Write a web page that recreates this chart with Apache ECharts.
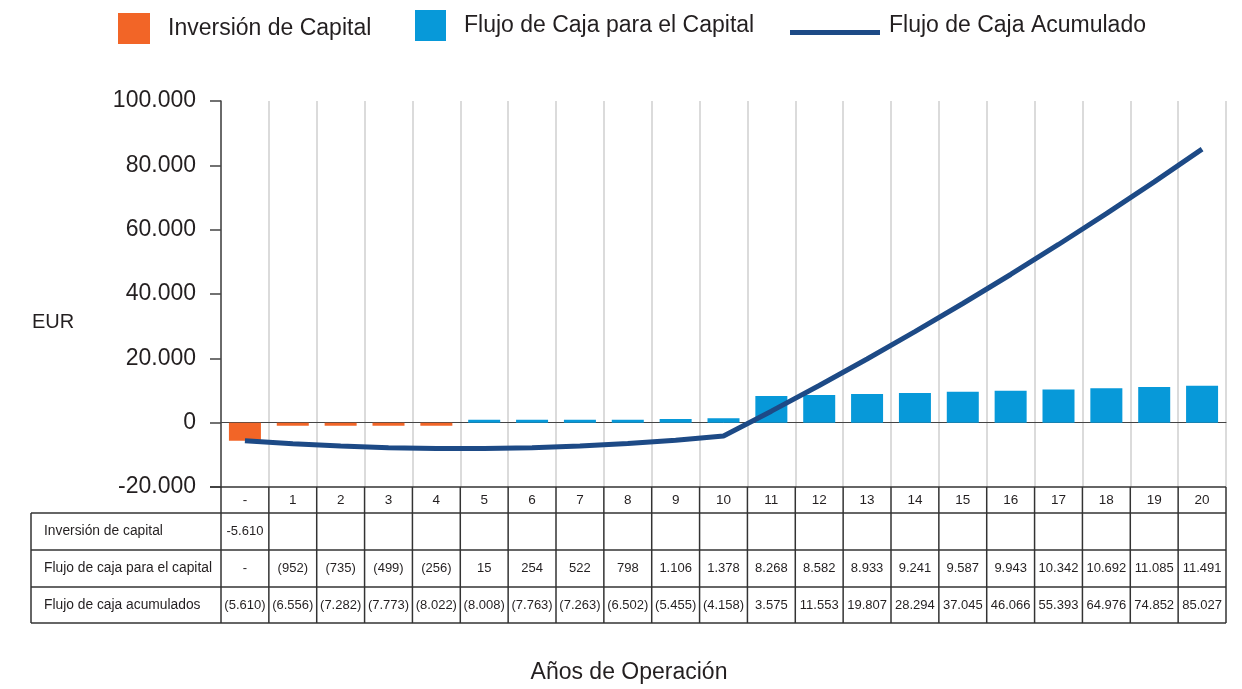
<!DOCTYPE html>
<html>
<head>
<meta charset="utf-8">
<script src="https://cdn.jsdelivr.net/npm/echarts@6/dist/echarts.min.js"></script>
<style>
  html, body { margin: 0; padding: 0; background: #fff; }
  #main { width: 1242px; height: 689px; }
</style>
</head>
<body>
<div id="main"></div>
<script>
// categorias (años) y series
const categories = ['-', '1', '2', '3', '4', '5', '6', '7', '8', '9', '10',
  '11', '12', '13', '14', '15', '16', '17', '18', '19', '20'];
const inversion = [-5610, null, null, null, null, null, null, null, null, null, null,
  null, null, null, null, null, null, null, null, null, null];
const flujo = [null, -952, -735, -499, -256, 15, 254, 522, 798, 1106, 1378,
  8268, 8582, 8933, 9241, 9587, 9943, 10342, 10692, 11085, 11491];
const acumulado = [-5610, -6556, -7282, -7773, -8022, -8008, -7763, -7263, -6502, -5455, -4158,
  3575, 11553, 19807, 28294, 37045, 46066, 55393, 64976, 74852, 85027];
const rowLabels = ['Inversión de capital', 'Flujo de caja para el capital', 'Flujo de caja acumulados'];

const ORANGE = '#f26527';
const BLUE = '#0799d9';
const NAVY = '#1d4a86';
const TXT = '#231f20';
const FONT = '"Liberation Sans", Arial, sans-serif';

function miles(v) {
  return Math.abs(v).toString().replace(/\B(?=(\d{3})+(?!\d))/g, '.');
}
function paren(v) {
  if (v == null) return '-';
  return v < 0 ? '(' + miles(v) + ')' : miles(v);
}
function signed(v) {
  if (v == null) return '';
  return (v < 0 ? '-' : '') + miles(v);
}

const chart = echarts.init(document.getElementById('main'));

const legendText = { fontSize: 23, color: TXT, fontFamily: FONT, padding: [0, 0, 0, 13] };
// línea de la leyenda algo por debajo del centro del texto
const lineIcon = 'path://M0 0H0.1V0.1H0Z M0 20H90V25H0Z M0 30.9H0.1V31H0Z';

chart.setOption({
  animation: false,
  textStyle: { fontFamily: FONT },
  legend: [
    { data: ['Inversión de Capital'], left: 118, top: 13, padding: 0, itemWidth: 32, itemHeight: 31,
      icon: 'rect', textStyle: legendText },
    { data: [{ name: 'Flujo de Caja para el Capital', itemStyle: { color: BLUE } }],
      left: 415, top: 10, padding: 0, itemWidth: 31, itemHeight: 31,
      icon: 'rect', textStyle: legendText },
    { data: ['Flujo de Caja Acumulado'], left: 790, top: 10, padding: 0, itemWidth: 90, itemHeight: 31,
      icon: lineIcon, textStyle: { fontSize: 23, color: TXT, fontFamily: FONT, padding: [0, 0, 0, 4] } }
  ],
  grid: { left: 221, right: 16, top: 101, bottom: 202 },
  xAxis: {
    type: 'category',
    data: categories,
    axisLine: { onZero: true, lineStyle: { color: '#444', width: 1 } },
    axisTick: { show: false },
    axisLabel: { show: false },
    splitLine: { show: true, lineStyle: { color: '#cfcfcf', width: 1.5 } }
  },
  yAxis: {
    type: 'value',
    min: -20000,
    max: 100000,
    interval: 20000,
    axisLine: { show: true, lineStyle: { color: '#444', width: 1.5 } },
    axisTick: { show: true, length: 11, lineStyle: { color: '#444', width: 1.5 } },
    splitLine: { show: false },
    axisLabel: {
      fontSize: 23, color: TXT, margin: 25,
      formatter: v => (v < 0 ? '-' : '') + miles(v)
    }
  },
  series: [
    { name: 'Inversión de Capital', type: 'bar', data: inversion, barWidth: 32, barGap: '-100%',
      itemStyle: { color: ORANGE } },
    { name: 'Flujo de Caja para el Capital', type: 'bar', data: flujo, barWidth: 32, barMinHeight: 3,
      itemStyle: { color: p => (p.value < 0 ? ORANGE : BLUE) } },
    { name: 'Flujo de Caja Acumulado', type: 'line', data: acumulado, symbol: 'none',
      lineStyle: { color: NAVY, width: 5 }, itemStyle: { color: NAVY }, z: 5 }
  ]
});

// tabla de datos bajo el gráfico
function buildTable() {
  const g = [];
  const line = (x1, y1, x2, y2, w) => g.push({
    type: 'line', shape: { x1, y1, x2, y2 }, style: { stroke: '#333', lineWidth: w || 1 }, z: 10
  });
  const text = (x, y, t, size, align) => g.push({
    type: 'text', x, y, style: {
      text: t, fill: TXT, font: size + 'px ' + FONT,
      align: align || 'center', verticalAlign: 'middle'
    }, z: 11
  });

  const c0 = chart.convertToPixel({ xAxisIndex: 0 }, 0);
  const c1 = chart.convertToPixel({ xAxisIndex: 0 }, 1);
  const band = c1 - c0;
  const left = c0 - band / 2;
  const right = left + band * categories.length;
  const yBottom = chart.convertToPixel({ yAxisIndex: 0 }, -20000);
  const tableLeft = 31;
  const rows = [yBottom, yBottom + 26, yBottom + 63, yBottom + 100, yBottom + 136];

  // líneas horizontales
  line(210, rows[0], right, rows[0], 1.5);
  for (let r = 1; r < rows.length; r++) line(tableLeft, rows[r], right, rows[r], 1.5);
  // verticales
  line(tableLeft, rows[1], tableLeft, rows[4], 1.5);
  for (let i = 0; i <= categories.length; i++) {
    const x = left + band * i;
    line(x, rows[0], x, rows[4], 1.5);
  }

  const rowData = [
    inversion.map(signed),
    flujo.map(paren),
    acumulado.map(paren)
  ];
  categories.forEach((c, i) => {
    const cx = chart.convertToPixel({ xAxisIndex: 0 }, i);
    text(cx, (rows[0] + rows[1]) / 2, c, 13.5);
    rowData.forEach((arr, r) => {
      text(cx, (rows[r + 1] + rows[r + 2]) / 2, arr[i], 13);
    });
  });
  rowLabels.forEach((lab, r) => text(44, (rows[r + 1] + rows[r + 2]) / 2, lab, 13.8, 'left'));

  text(32, 322, 'EUR', 20, 'left');
  text(629, 673, 'Años de Operación', 23);

  chart.setOption({ graphic: g });
}
buildTable();
</script>
</body>
</html>
